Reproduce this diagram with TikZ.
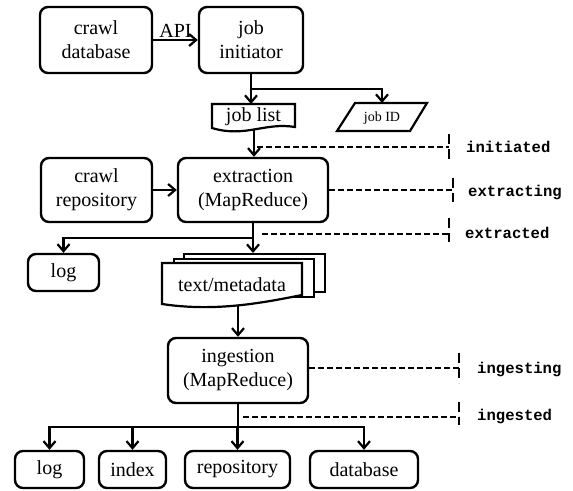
\documentclass[tikz,border=0pt]{standalone}
\usepackage{fontspec}
\setmainfont{Liberation Serif}
\setmonofont{Liberation Mono}
\usetikzlibrary{arrows.meta,calc}
\begin{document}
\begin{tikzpicture}[x=1pt,y=-1pt,
  box/.style={draw, line width=2.4pt, rounded corners=8pt, align=center, font=\fontsize{20}{24}\selectfont, inner sep=0pt},
  arr/.style={line width=2.4pt, -{Straight Barb[length=7pt,width=12pt,line width=2.2pt]}},
  conn/.style={line width=2.4pt},
  dashln/.style={line width=1.8pt, dash pattern=on 6pt off 3pt},
  tickln/.style={line width=2pt, dash pattern=on 10pt off 5pt},
  stat/.style={anchor=base west, font=\fontsize{15.6}{18}\selectfont\ttfamily\bfseries, inner sep=0pt},
  doc/.style={draw, line width=2.2pt, fill=white, line join=miter},
  lbl/.style={font=\fontsize{20}{24}\selectfont, inner sep=0pt}
]
\useasboundingbox (0,0) rectangle (573,490);

% top row
\node[box, minimum width=112pt, minimum height=66pt] (cdb) at (96,40) {crawl\\database};
\node[box, minimum width=104pt, minimum height=66pt] (ji) at (251,40) {job\\initiator};
\draw[arr] (cdb.east) -- (ji.west) node[midway, above=1pt, lbl] (api) {API};

% job list document
\draw[doc] (212,104) -- (295,104) -- (295,127) .. controls (265,122) and (245,138) .. (212,128) -- cycle;
\node[lbl] (jl) at (253.5,117) {job list};
\coordinate (jlN) at (251,104);
\coordinate (jlS) at (254,130);

% job ID parallelogram
\draw[doc] (355,103) -- (427,103) -- (410,131) -- (337,131) -- cycle;
\node[font=\fontsize{14}{16}\selectfont, inner sep=0pt] (jid) at (382,118) {job ID};
\coordinate (jidN) at (382,103);

\draw[arr] (ji.south) -- (jlN);
\coordinate (br1) at (251,89);
\draw[arr] (br1) -| (jidN);

% extraction row
\node[box, minimum width=111pt, minimum height=64pt] (crepo) at (96.5,190) {crawl\\repository};
\node[box, minimum width=150pt, minimum height=64pt] (ext) at (253,190) {extraction\\(MapReduce)};
\draw[arr] (jlS) -- (jlS |- ext.north);
\draw[arr] (crepo.east) -- (ext.west);

% log
\node[box, minimum width=71pt, minimum height=37pt] (log1) at (63.5,272.5) {log};

% text/metadata stack
\node[draw, line width=2.2pt, fill=white, minimum width=141pt, minimum height=38pt, inner sep=0pt, anchor=north west] (tmback) at (183,253) {};
\node[draw, line width=2.2pt, fill=white, minimum width=140pt, minimum height=38pt, inner sep=0pt, anchor=north west] (tmmid) at (173,258) {};
\draw[doc] (162,263) -- (302,263) -- (302,295) .. controls (262,303) and (215,312) .. (162,304) -- cycle;
\node[lbl] (tm) at (232,285) {text/metadata};
\coordinate (tmS) at (238,305.5);

\draw[arr] (ext.south) -- (ext.south |- tmback.north);
\coordinate (br2) at (253,238);
\draw[arr] (br2) -| (log1.north);

% ingestion
\node[box, minimum width=140pt, minimum height=65pt] (ing) at (238,370.5) {ingestion\\(MapReduce)};
\draw[arr] (tmS) -- (ing.north);

% bottom row
\node[box, minimum width=69pt, minimum height=37pt] (log2) at (49.5,469.5) {log};
\node[box, minimum width=67pt, minimum height=37pt] (idx) at (132.5,469.5) {index};
\node[box, minimum width=105pt, minimum height=37pt] (repo) at (237.5,469.5) {repository};
\node[box, minimum width=108pt, minimum height=37pt] (db) at (364,469.5) {database};
\coordinate (br3) at (238,427);
\draw[conn] (ing.south) -- (br3);
\draw[arr] (br3) -| (log2.north);
\draw[arr] (br3) -| (idx.north);
\draw[arr] (br3) -- (br3 -| repo.north) -- (repo.north);
\draw[arr] (br3) -| (db.north);

% status lines
\coordinate (d1a) at (257,147); \coordinate (d1b) at (449,147);
\draw[dashln] (d1a) -- (d1b);
\draw[tickln] ($(d1b)+(0,-13)$) -- ($(d1b)+(0,12)$);
\node[stat] (s1) at (466,152) {initiated};

\coordinate (d2b) at (453,190);
\draw[dashln] (ext.east) -- (d2b);
\draw[tickln] ($(d2b)+(0,-12)$) -- ($(d2b)+(0,12)$);
\node[stat] (s2) at (468,196) {extracting};

\coordinate (d3a) at (262,234); \coordinate (d3b) at (449,234);
\draw[dashln] (d3a) -- (d3b);
\draw[tickln] ($(d3b)+(0,-16)$) -- ($(d3b)+(0,8)$);
\node[stat] (s3) at (465,238) {extracted};

\coordinate (d4b) at (459,368);
\draw[dashln] (ing.east |- d4b) -- (d4b);
\draw[tickln] ($(d4b)+(0,-15)$) -- ($(d4b)+(0,15)$);
\node[stat] (s4) at (477,373) {ingesting};

\coordinate (d5a) at (243,417); \coordinate (d5b) at (459,417);
\draw[dashln] (d5a) -- (d5b);
\draw[tickln] ($(d5b)+(0,-15)$) -- ($(d5b)+(0,8)$);
\node[stat] (s5) at (477,420) {ingested};
\end{tikzpicture}
\end{document}
